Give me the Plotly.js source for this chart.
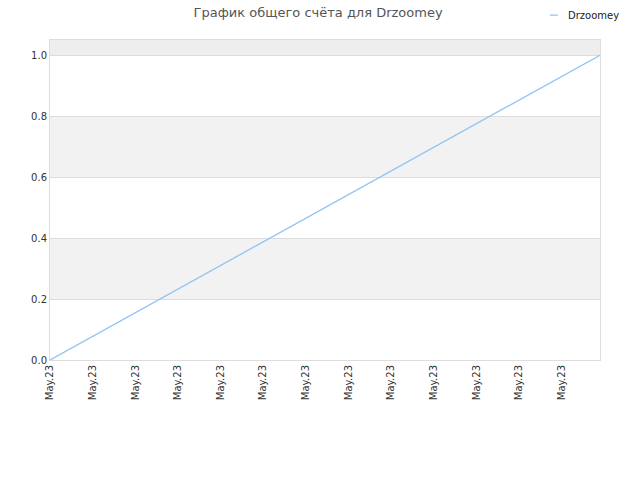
<!DOCTYPE html>
<html>
<head>
<meta charset="utf-8">
<script src="https://cdn.plot.ly/plotly-3.0.1.min.js"></script>
<style>
  html, body { margin: 0; padding: 0; background: #fff; }
  #chart { width: 640px; height: 480px; }
</style>
</head>
<body>
<div id="chart"></div>
<script>
// values
const playerName = "Drzoomey";
const pointIndex = [0, 12.9];
const scoreValues = [0, 1];
const tickPositions = [0, 1, 2, 3, 4, 5, 6, 7, 8, 9, 10, 11, 12];
const tickLabels = ["May.23", "May.23", "May.23", "May.23", "May.23", "May.23", "May.23",
  "May.23", "May.23", "May.23", "May.23", "May.23", "May.23"];
const yTicks = [0, 0.2, 0.4, 0.6, 0.8, 1.0];
const bandRanges = [[0.2, 0.4], [0.6, 0.8], [1.0, 1.05]];

const font = "DejaVu Sans, sans-serif";

const trace = {
  type: "scatter",
  mode: "lines",
  name: playerName,
  x: pointIndex,
  y: scoreValues,
  line: { color: "#8fc3f5", width: 1.3 },
};

// alternating grey bands behind the plot
const shapes = bandRanges.map(b => ({
  type: "rect",
  xref: "paper",
  yref: "y",
  x0: 0, x1: 1,
  y0: b[0], y1: b[1],
  fillcolor: b[0] >= 1 ? "#eeeeee" : "#f2f2f2",
  line: { width: 0 },
  layer: "below",
}));

const layout = {
  width: 640,
  height: 480,
  margin: { l: 50, r: 40, t: 40, b: 120, autoexpand: false },
  paper_bgcolor: "#ffffff",
  plot_bgcolor: "#ffffff",
  font: { family: font, size: 10, color: "#333" },
  title: {
    text: "График общего счёта для " + playerName,
    font: { family: font, size: 13, color: "#555" },
    x: 0.497, xanchor: "center",
    y: 0.975, yanchor: "middle",
  },
  showlegend: true,
  legend: {
    x: 0.869, y: 1.078, xanchor: "left", yanchor: "middle",
    font: { family: font, size: 10, color: "#222" },
    bgcolor: "rgba(0,0,0,0)",
    itemwidth: 30,
  },
  xaxis: {
    range: [0, 12.9],
    tickvals: tickPositions,
    ticktext: tickLabels,
    tickangle: -90,
    showgrid: false,
    zeroline: false,
    showline: true,
    linecolor: "#dddddd",
    mirror: true,
    ticks: "",
    tickfont: { family: font, size: 10, color: "#333" },
  },
  yaxis: {
    range: [0, 1.05],
    tickvals: yTicks,
    tickformat: ".1f",
    showgrid: true,
    gridcolor: "#dddddd",
    zeroline: false,
    showline: true,
    linecolor: "#dddddd",
    mirror: true,
    ticks: "",
    tickfont: { family: font, size: 10, color: "#333" },
  },
  shapes: shapes,
};

Plotly.newPlot("chart", [trace], layout, { displayModeBar: false, staticPlot: true })
  .then(gd => {
    // the reference uses a short legend swatch
    gd.querySelectorAll(".legend .js-line").forEach(p => p.setAttribute("d", "M22,0h8"));
  });
</script>
</body>
</html>
